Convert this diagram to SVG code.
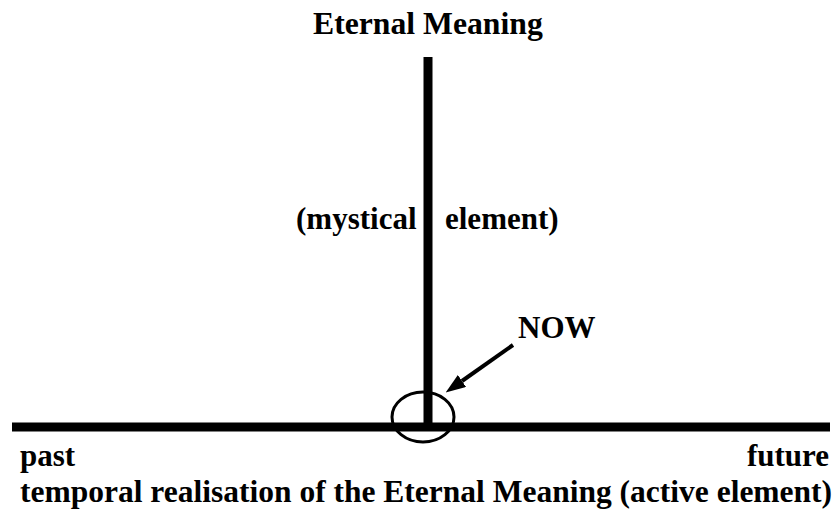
<svg xmlns="http://www.w3.org/2000/svg" width="838" height="512" viewBox="0 0 838 512">
<defs>
<style>
.t{font-family:'Liberation Serif',serif !important;font-weight:bold;font-size:31px;fill:#000}
.ax{stroke:#000;stroke-width:9;fill:none}
.ring{fill:none;stroke:#000;stroke-width:3}
.ptr{stroke:#000;stroke-width:4;fill:none}
</style>
<marker id="ah" markerWidth="5" markerHeight="3.6" refX="0" refY="1.8" orient="auto" markerUnits="strokeWidth">
<path d="M0,0 L5,1.8 L0,3.6 z" fill="#000"/>
</marker>
</defs>
<rect width="838" height="512" fill="#fff"/>
<g id="axes">
<line class="ax" x1="428" y1="57" x2="428" y2="427"/>
<line class="ax" x1="12" y1="427" x2="830" y2="427"/>
</g>
<g id="now">
<ellipse class="ring" cx="423" cy="417" rx="31" ry="25"/>
<text class="t" x="518" y="338">NOW</text>
</g>
<g id="connectors">
<line class="ptr" x1="513" y1="345" x2="462" y2="381" marker-end="url(#ah)"/>
</g>
<g id="labels">
<text class="t" x="313" y="34" style="font-size:31.7px">Eternal Meaning</text>
<text class="t" x="296" y="229">(mystical</text>
<text class="t" x="445" y="229">element)</text>
<text class="t" x="20" y="466">past</text>
<text class="t" x="829" y="466" text-anchor="end">future</text>
<text class="t" x="20" y="502" style="font-size:31.5px">temporal realisation of the Eternal Meaning (active element)</text>
</g>
</svg>
